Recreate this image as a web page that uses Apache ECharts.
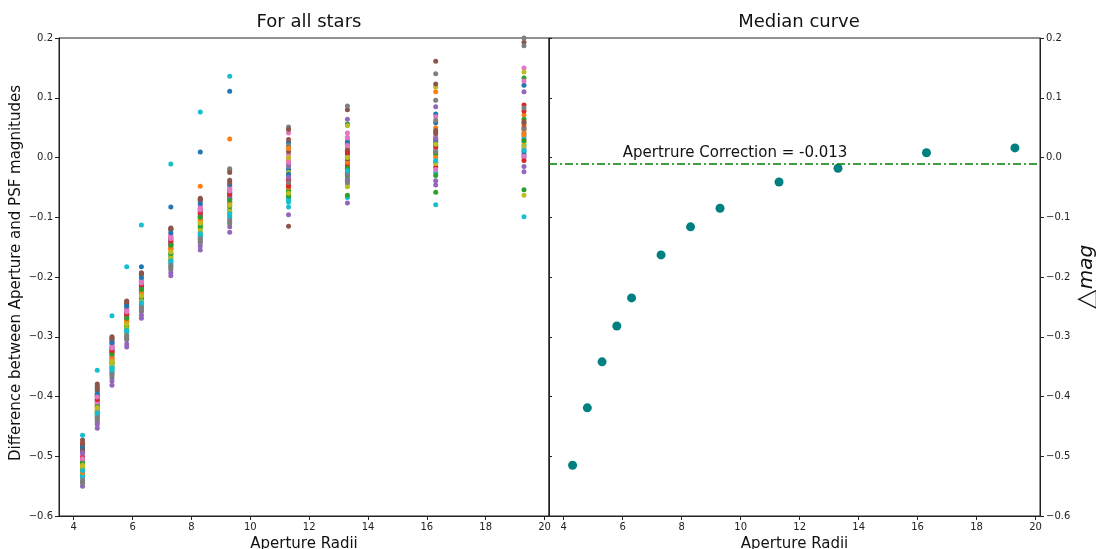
<!DOCTYPE html>
<html><head><meta charset="utf-8">
<script src="https://cdn.jsdelivr.net/npm/echarts@6/dist/echarts.min.js"></script>
<style>html,body{margin:0;padding:0;background:#fff}#c{width:1096px;height:549px}</style>
</head><body><div id="c"></div>
<script>
// Aperture radii (x categories)
const radii = [4.3, 4.8, 5.3, 5.8, 6.3, 7.3, 8.3, 9.3, 11.3, 13.3, 16.3, 19.3];
const xTicks = [4, 6, 8, 10, 12, 14, 16, 18, 20];
const yTicks = [-0.6, -0.5, -0.4, -0.3, -0.2, -0.1, 0.0, 0.1, 0.2];

// Per-star differences at each radius (index = star)
const r43 = [-0.481,-0.520,-0.508,-0.478,-0.550,-0.473,-0.492,-0.545,-0.525,-0.465,
 -0.488,-0.512,-0.531,-0.503,-0.497,-0.486,-0.500,-0.540,-0.517,-0.528,
 -0.495,-0.506,-0.522,-0.514,-0.509,-0.490,-0.498,-0.536,-0.519,-0.533,
 -0.484,-0.527,-0.511,-0.502,-0.494,-0.480,-0.504,-0.543,-0.515,-0.524];
const r48 = [-0.392,-0.418,-0.428,-0.398,-0.453,-0.379,-0.404,-0.440,-0.436,-0.356,
 -0.410,-0.422,-0.430,-0.412,-0.402,-0.386,-0.395,-0.444,-0.425,-0.433,
 -0.400,-0.414,-0.426,-0.407,-0.416,-0.389,-0.409,-0.438,-0.420,-0.431,
 -0.396,-0.423,-0.417,-0.405,-0.447,-0.383,-0.401,-0.435,-0.419,-0.427];
const r53 = [-0.305,-0.335,-0.343,-0.318,-0.381,-0.300,-0.312,-0.369,-0.358,-0.265,
 -0.322,-0.340,-0.350,-0.327,-0.330,-0.308,-0.316,-0.362,-0.346,-0.354,
 -0.320,-0.333,-0.344,-0.325,-0.337,-0.303,-0.314,-0.365,-0.348,-0.352,
 -0.310,-0.338,-0.329,-0.323,-0.374,-0.302,-0.319,-0.360,-0.342,-0.356];
const r58 = [-0.246,-0.272,-0.282,-0.256,-0.317,-0.240,-0.250,-0.305,-0.295,-0.183,
 -0.262,-0.276,-0.286,-0.266,-0.270,-0.244,-0.253,-0.300,-0.284,-0.290,
 -0.259,-0.273,-0.281,-0.264,-0.268,-0.242,-0.255,-0.303,-0.287,-0.292,
 -0.249,-0.275,-0.269,-0.261,-0.312,-0.241,-0.258,-0.298,-0.279,-0.289];
const r63 = [-0.183,-0.225,-0.235,-0.207,-0.269,-0.193,-0.203,-0.258,-0.248,-0.113,
 -0.214,-0.228,-0.238,-0.218,-0.222,-0.196,-0.206,-0.254,-0.240,-0.245,
 -0.211,-0.226,-0.233,-0.216,-0.220,-0.195,-0.208,-0.256,-0.242,-0.247,
 -0.201,-0.227,-0.221,-0.213,-0.264,-0.194,-0.210,-0.251,-0.232,-0.243];
const r73 = [-0.083,-0.150,-0.162,-0.133,-0.198,-0.118,-0.128,-0.185,-0.175,-0.011,
 -0.140,-0.155,-0.166,-0.145,-0.148,-0.121,-0.131,-0.182,-0.168,-0.172,
 -0.137,-0.152,-0.160,-0.143,-0.146,-0.120,-0.134,-0.188,-0.170,-0.177,
 -0.126,-0.153,-0.147,-0.139,-0.193,-0.119,-0.136,-0.180,-0.158,-0.173];
const r83 = [0.009,-0.048,-0.115,-0.085,-0.155,-0.068,-0.080,-0.140,-0.128,0.076,
 -0.092,-0.108,-0.118,-0.098,-0.101,-0.072,-0.083,-0.137,-0.122,-0.130,
 -0.089,-0.104,-0.112,-0.095,-0.099,-0.071,-0.086,-0.143,-0.125,-0.133,
 -0.077,-0.106,-0.100,-0.091,-0.148,-0.070,-0.088,-0.135,-0.110,-0.127];
const r93 = [0.111,0.031,-0.075,-0.055,-0.125,-0.021,-0.048,-0.019,-0.095,0.136,
 -0.060,-0.078,-0.088,-0.066,-0.070,-0.025,-0.052,-0.108,-0.090,-0.100,
 -0.058,-0.074,-0.082,-0.064,-0.068,-0.038,-0.050,-0.104,-0.092,-0.098,
 -0.045,-0.076,-0.071,-0.061,-0.116,-0.042,-0.056,-0.111,-0.080,-0.094];
const r113 = [-0.030,-0.010,-0.055,-0.045,-0.096,-0.115,0.041,0.051,0.018,-0.083,
 -0.020,-0.005,-0.062,-0.035,-0.040,0.047,0.005,-0.015,-0.025,-0.068,
 0.025,-0.050,-0.058,-0.038,-0.012,0.010,-0.002,0.020,0.000,-0.072,
 -0.028,0.015,-0.065,-0.048,-0.033,0.030,-0.008,-0.042,-0.060,-0.075];
const r133 = [0.028,0.015,0.056,-0.025,0.064,0.080,0.041,0.086,0.053,-0.067,
 0.005,0.022,-0.063,-0.010,-0.076,-0.020,0.030,-0.035,-0.045,0.010,
 -0.005,0.018,-0.030,-0.015,-0.040,0.012,0.034,-0.028,-0.049,0.002,
 0.025,-0.008,-0.018,0.008,-0.038,-0.002,0.020,-0.042,0.000,-0.022];
const r163 = [0.073,0.110,-0.058,0.008,-0.046,0.161,0.068,0.140,0.118,-0.079,
 0.058,0.050,0.020,-0.016,0.085,0.123,0.035,0.096,0.028,0.012,
 -0.008,0.043,0.005,0.030,-0.039,0.040,0.015,0.062,-0.010,-0.025,
 0.025,0.000,-0.030,0.018,0.032,0.045,-0.020,0.010,0.022,-0.005];
const r193 = [0.121,0.071,0.133,0.088,0.110,0.193,0.150,0.200,0.143,-0.099,
 0.040,0.055,0.064,0.078,-0.024,0.030,0.128,0.187,-0.063,0.020,
 0.010,0.045,-0.054,0.050,0.000,0.060,0.015,0.083,0.025,0.035,
 0.005,0.038,0.028,-0.005,-0.015,0.058,0.002,0.048,0.018,0.012];

// Median curve
const medians = [-0.515, -0.419, -0.342, -0.282, -0.235, -0.163, -0.116, -0.085, -0.041, -0.018, 0.008, 0.016];
const apertureCorrection = -0.013;
const correctionLabel = 'Apertrure Correction = -0.013';

const clusters = [r43, r48, r53, r58, r63, r73, r83, r93, r113, r133, r163, r193];
const palette = ['#1f77b4','#ff7f0e','#2ca02c','#d62728','#9467bd','#8c564b','#e377c2','#7f7f7f','#bcbd22','#17becf'];

const FONT = 'DejaVu Sans';
const fmtY = v => { const r = Math.round(v * 10) / 10; return (r < 0 ? '\u2212' : '') + Math.abs(r).toFixed(1); };

const nStars = r43.length;
const starSeries = [];
for (let i = 0; i < nStars; i++) {
  starSeries.push({
    type: 'scatter', xAxisIndex: 0, yAxisIndex: 0,
    symbolSize: 5, itemStyle: { color: palette[i % 10], opacity: 1 },
    data: radii.map((r, j) => [r, clusters[j][i]]),
    silent: true, animation: false
  });
}

function xAxis(grid) {
  return {
    type: 'value', gridIndex: grid, min: 3.5, max: 20.15,
    name: 'Aperture Radii', nameLocation: 'middle', nameGap: 17,
    nameTextStyle: { fontFamily: FONT, fontSize: 15, color: '#111' },
    axisLine: { show: true, onZero: false, lineStyle: { color: '#222', width: 1 } },
    axisTick: { show: true, length: 4, customValues: xTicks, lineStyle: { color: '#222' } },
    axisLabel: { customValues: xTicks, fontFamily: FONT, fontSize: 10, color: '#222', margin: 6 },
    splitLine: { show: false }
  };
}

const option = {
  backgroundColor: '#fff',
  animation: false,
  title: [
    { text: 'For all stars', left: 304, top: 8, textAlign: 'center',
      textStyle: { fontFamily: FONT, fontSize: 18, fontWeight: 'normal', color: '#111' } },
    { text: 'Median curve', left: 794, top: 8, textAlign: 'center',
      textStyle: { fontFamily: FONT, fontSize: 18, fontWeight: 'normal', color: '#111' } }
  ],
  grid: [
    { left: 59, right: 547, top: 38, bottom: 33, outerBoundsMode: 'none', containLabel: false,
      show: true, borderColor: '#222', borderWidth: 1, backgroundColor: 'transparent' },
    { left: 549, right: 56, top: 38, bottom: 33, outerBoundsMode: 'none', containLabel: false,
      show: true, borderColor: '#222', borderWidth: 1, backgroundColor: 'transparent' }
  ],
  xAxis: [xAxis(0), xAxis(1)],
  yAxis: [
    { type: 'value', gridIndex: 0, min: -0.6, max: 0.2, position: 'left',
      name: 'Difference between Aperture and PSF magnitudes', nameLocation: 'middle', nameGap: 35,
      nameTextStyle: { fontFamily: FONT, fontSize: 15, color: '#111', padding: [0, 0, 0, 8] },
      axisLine: { show: true, lineStyle: { color: '#222' } },
      axisTick: { show: true, length: 4, customValues: yTicks, lineStyle: { color: '#222' } },
      axisLabel: { customValues: yTicks, formatter: fmtY, fontFamily: FONT, fontSize: 10, color: '#222', margin: 6 },
      splitLine: { show: false } },
    { type: 'value', gridIndex: 1, min: -0.6, max: 0.2, position: 'right',
      name: '{t|\u25B3}{m|mag}', nameLocation: 'middle', nameGap: 32, nameRotate: 90,
      nameTextStyle: { fontFamily: FONT, fontSize: 20, color: '#111',
        rich: { t: { fontFamily: FONT, fontSize: 26, color: '#111' },
                m: { fontFamily: FONT, fontSize: 20, fontStyle: 'italic', color: '#111' } } },
      axisLine: { show: true, lineStyle: { color: '#222' } },
      axisTick: { show: true, length: 4, customValues: yTicks, lineStyle: { color: '#222' } },
      axisLabel: { customValues: yTicks, formatter: fmtY, fontFamily: FONT, fontSize: 10, color: '#222', margin: 6 },
      splitLine: { show: false } },
    { type: 'value', gridIndex: 1, min: -0.6, max: 0.2, position: 'left',
      axisLine: { show: true, lineStyle: { color: '#222' } },
      axisTick: { show: true, length: 3, inside: true, customValues: yTicks, lineStyle: { color: '#222' } },
      axisLabel: { show: false }, splitLine: { show: false } }
  ],
  series: starSeries.concat([
    { type: 'scatter', xAxisIndex: 1, yAxisIndex: 1, symbolSize: 9,
      itemStyle: { color: '#008080', opacity: 1 },
      data: radii.map((r, j) => [r, medians[j]]), silent: true,
      markLine: { silent: true, symbol: 'none', animation: false,
        lineStyle: { color: '#008000', width: 1.5, type: [8, 3, 2, 3] },
        label: { show: false },
        data: [{ yAxis: apertureCorrection }] } }
  ])
};

const chart = echarts.init(document.getElementById('c'), null, { renderer: 'canvas' });
chart.setOption(option);
const p = chart.convertToPixel({ gridIndex: 1 }, [6.0, 0.0]);
chart.setOption({
  graphic: [{ type: 'text', x: p[0], y: p[1] + 3, silent: true,
    style: { text: correctionLabel, fontFamily: FONT, fontSize: 15, fill: '#111', textAlign: 'left', textVerticalAlign: 'bottom' } }]
});
</script></body></html>
